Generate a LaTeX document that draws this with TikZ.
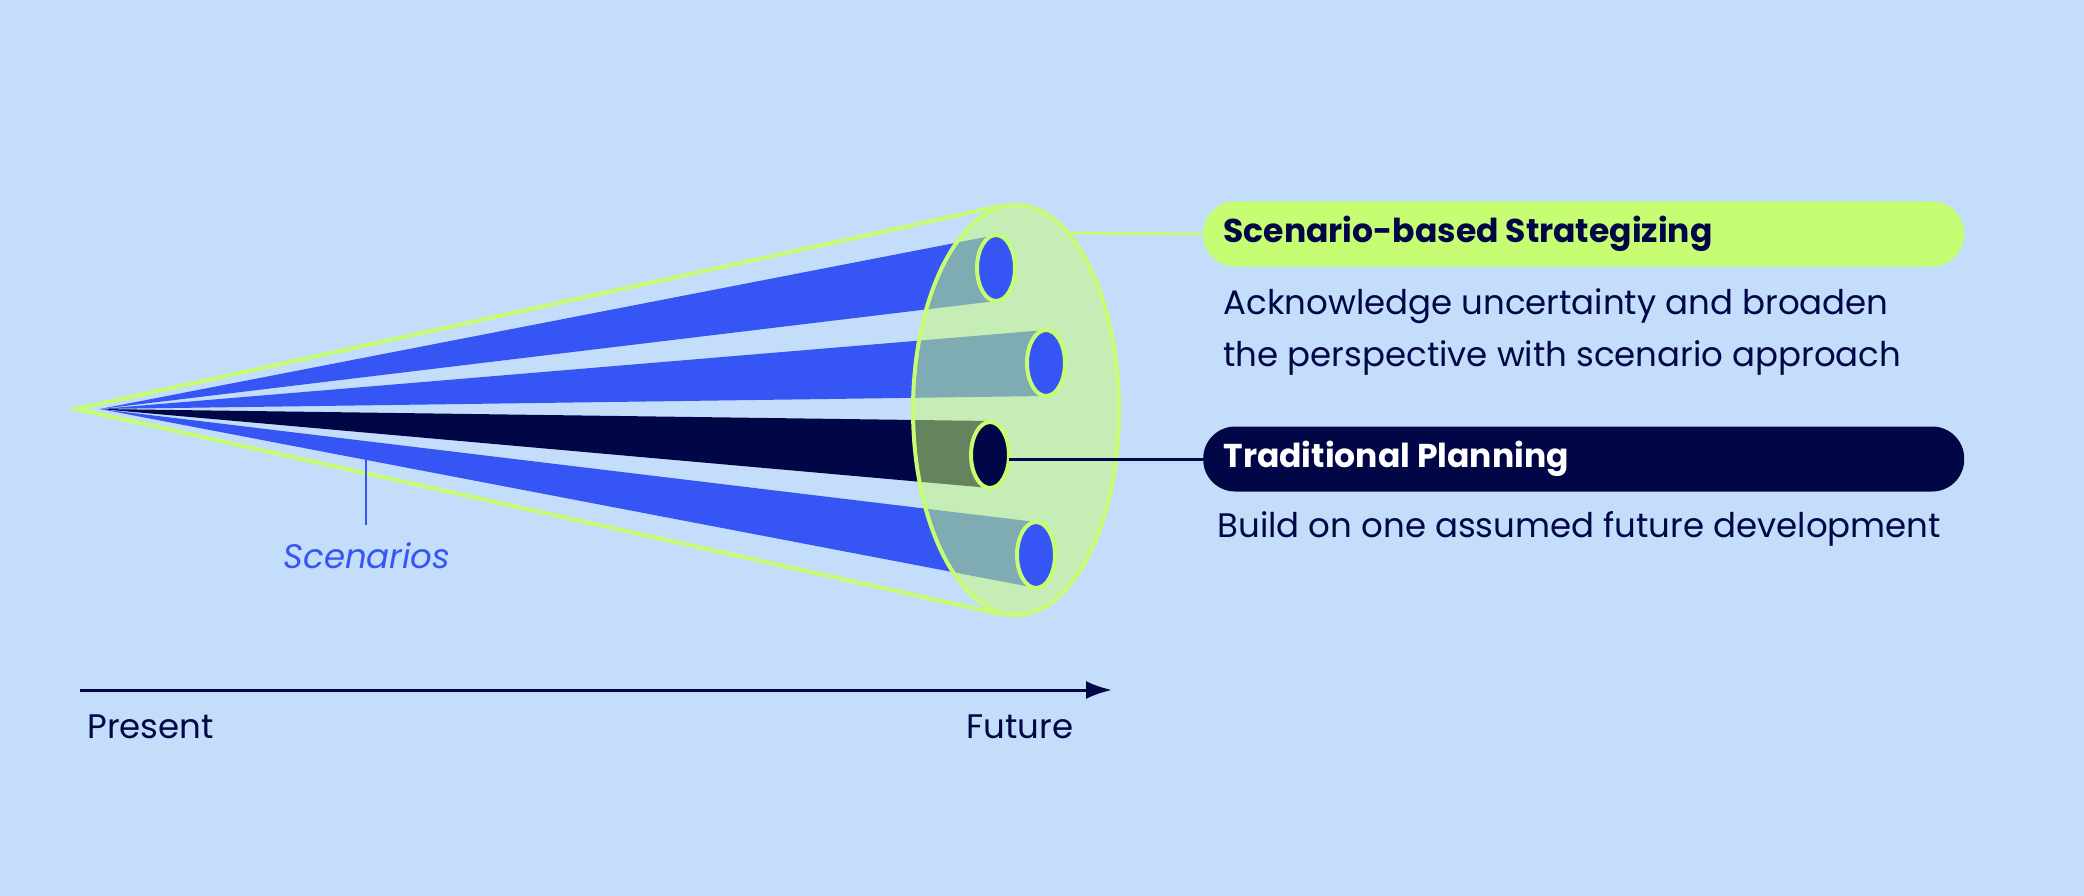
\documentclass[tikz,border=0pt]{standalone}
\usepackage{fontspec}
\setmainfont{Poppins}
\usetikzlibrary{arrows.meta}
\definecolor{bg}{HTML}{C3DDFA}
\definecolor{blu}{HTML}{3556F5}
\definecolor{navy}{HTML}{000646}
\definecolor{lime}{HTML}{C7FD73}
\begin{document}
\begin{tikzpicture}[x=1pt,y=-1pt,
  tube/.style={fill=blu},
  endcap/.style={draw=lime,line width=4pt,fill=blu},
  pill/.style={rounded corners=32pt,minimum width=761pt,minimum height=65pt,anchor=west,inner sep=0pt},
  title/.style={font=\fontsize{33}{38}\selectfont\bfseries,text=navy,anchor=west},
  body/.style={font=\fontsize{34}{52}\selectfont,text=navy,anchor=west,align=left}]
\fill[bg] (0,0) rectangle (2084,896);
\useasboundingbox (0,0) rectangle (2084,896);
\coordinate (apex) at (76,409);
\coordinate (tapex) at (100,409);
% tubes
\fill[tube] (tapex) -- (996,235) -- (996,301) -- cycle;
\fill[tube] (tapex) -- (1046,330) -- (1046,396) -- cycle;
\fill[navy] (tapex) -- (990,421) -- (990,488) -- cycle;
\fill[tube] (tapex) -- (1036,522) -- (1036,588) -- cycle;
% cone
\draw[lime,line width=4pt,fill=lime,fill opacity=0.51] (1016,410) ellipse [x radius=103,y radius=205];
\coordinate (ctop) at (1000,206);
\coordinate (cbot) at (1000,614);
\draw[lime,line width=4pt] (ctop) -- (apex) -- (cbot);
% end caps
\draw[endcap] (996,268) ellipse [x radius=19,y radius=33];
\draw[endcap] (1046,363) ellipse [x radius=19,y radius=33];
\draw[endcap,fill=navy] (990,455) ellipse [x radius=19,y radius=33];
\draw[endcap] (1036,555) ellipse [x radius=19,y radius=33];
% labels
\node[pill,fill=lime] (sbs) at (1203,234) {};
\node[title] at (1220,234) {Scenario-based Strategizing};
\node[body] at (1220,332) {Acknowledge uncertainty and broaden\\the perspective with scenario approach};
\node[pill,fill=navy] (tp) at (1203,459) {};
\node[title,text=white] at (1220,459) {Traditional Planning};
\node[body] at (1214,529) {Build on one assumed future development};
\draw[lime,line width=3pt] (1070,233) -- (sbs.west);
\draw[navy,line width=3pt] (1009,459) -- (tp.west);
% scenarios
\draw[blu,line width=2pt] (366,459) -- (366,525);
\node[font=\fontsize{34}{38}\selectfont\itshape,text=blu] at (367,556) {Scenarios};
% axis
\draw[navy,line width=3pt,-{Latex[length=26pt,width=18pt]}] (80,690) -- (1112,690);
\node[body] at (84,727) {Present};
\node[font=\fontsize{34}{38}\selectfont,text=navy] at (1020,727) {Future};
\end{tikzpicture}
\end{document}
